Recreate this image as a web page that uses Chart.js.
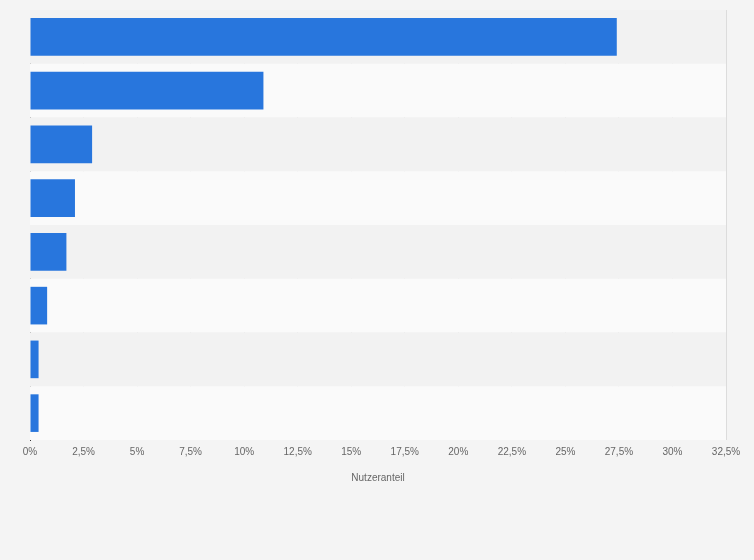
<!DOCTYPE html>
<html><head><meta charset="utf-8">
<script src="https://cdn.jsdelivr.net/npm/chart.js@4"></script>
<style>html,body{margin:0;background:#f4f4f4;}#w{width:754px;height:560px;}</style>
</head><body><div id="w"><canvas id="c"></canvas></div>
<script>
const categories = ["1","2","3","4","5","6","7","8"];
const values = [27.4, 10.9, 2.9, 2.1, 1.7, 0.8, 0.4, 0.4];
const xMax = 32.5, xStep = 2.5;
const bands = {
  id:'bands',
  beforeDatasetsDraw(ch){
    const {ctx, chartArea:a, scales:{y}} = ch;
    ctx.save();
    categories.forEach((c,i)=>{
      const t = y.getPixelForValue(i) - (y.getPixelForValue(1)-y.getPixelForValue(0))/2;
      const h = (y.getPixelForValue(1)-y.getPixelForValue(0));
      ctx.fillStyle = i%2===0 ? '#f2f2f2' : '#fafafa';
      ctx.fillRect(a.left, t, a.right-a.left, h);
    });
    ctx.restore();
  }
};
new Chart(document.getElementById('c'), {
  type:'bar',
  data:{labels:categories, datasets:[{data:values, backgroundColor:'#2876dd', barPercentage:0.7, categoryPercentage:1}]},
  plugins:[bands],
  options:{
    indexAxis:'y', responsive:true, maintainAspectRatio:false, animation:false,
    layout:{padding:{left:0,right:28,top:10,bottom:72}},
    plugins:{legend:{display:false}, tooltip:{enabled:false}},
    scales:{
      x:{min:0,max:xMax,
        ticks:{stepSize:xStep, color:'#666', font:{family:'Arial, Liberation Sans',size:10}, padding:6,
          callback:v=>String(v).replace('.',',')+'%'},
        grid:{color:'#dcdcdc', drawTicks:false},
        border:{display:false},
        title:{display:true,text:'Nutzeranteil',color:'#666',font:{family:'Arial, Liberation Sans',size:10},padding:{top:8}}},
      y:{ticks:{display:false}, grid:{display:false}, afterFit(s){s.width=30;},
        border:{display:true,color:'#333',width:1}}
    }
  }
});
</script></body></html>
